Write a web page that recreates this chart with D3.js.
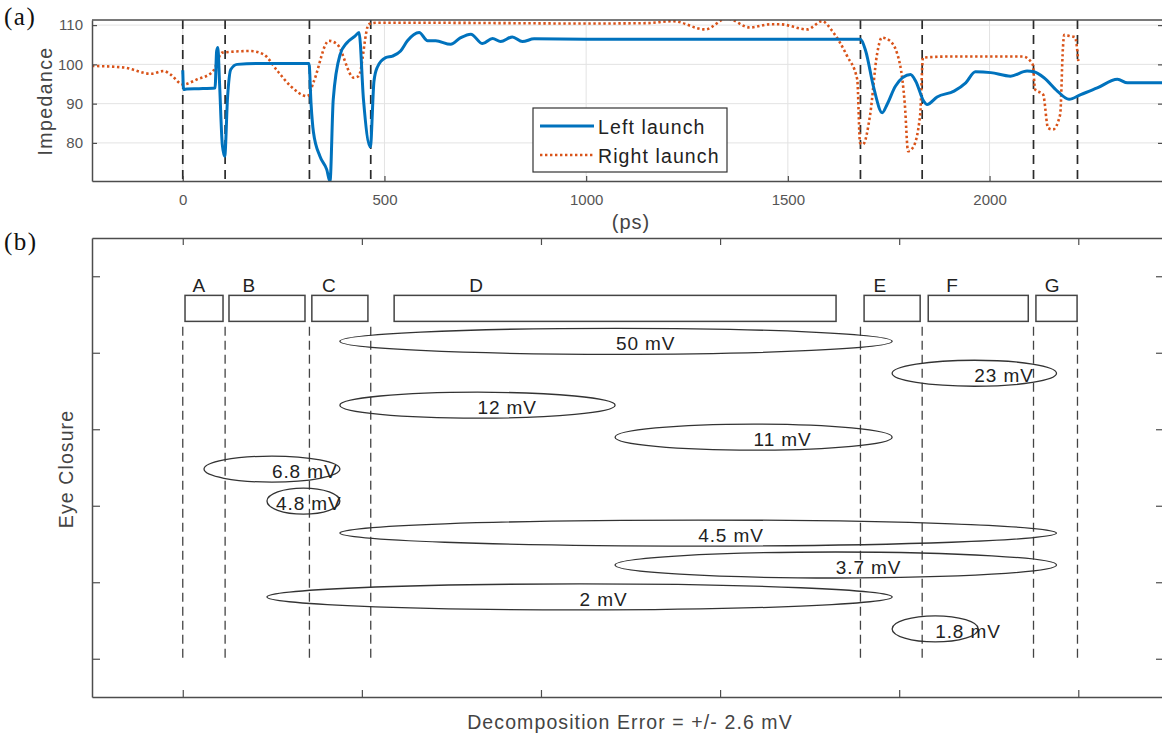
<!DOCTYPE html>
<html>
<head>
<meta charset="utf-8">
<script src="https://cdn.jsdelivr.net/npm/d3@7"></script>
<style>
  html, body { margin: 0; padding: 0; background: #fff; }
  svg { display: block; }
  text { font-family: "Liberation Sans", Arial, sans-serif; }
</style>
</head>
<body>
<svg id="fig" width="1162" height="738"></svg>
<script>
// ---------- panel (a): impedance profile ----------
const leftTime = [0, 2, 10, 40, 80, 84, 87, 91, 98, 104, 111, 119, 135, 185, 313, 318, 324, 340, 357, 365, 373, 390, 407, 427, 437, 448, 465, 474, 482, 503, 520, 540, 557, 586, 607, 627, 664, 689, 714, 743, 768, 788, 817, 842, 871, 1000, 1400, 1680, 1693, 1713, 1734, 1746, 1767, 1804, 1817, 1837, 1845, 1870, 1912, 1941, 1965, 2003, 2052, 2093, 2110, 2135, 2168, 2197, 2226, 2267, 2317, 2342, 2430];
const leftImp  = [98.5, 93.6, 93.7, 93.8, 94, 103.4, 104.3, 95.7, 79.6, 76.6, 91.5, 98.7, 100, 100.2, 100.2, 90, 82.7, 76.6, 73.2, 70.2, 91, 102.5, 105.5, 107.2, 108.1, 91, 79, 95.7, 99.2, 101.7, 102.1, 103.4, 106, 108.1, 106, 106, 105.1, 106.8, 107.7, 105.3, 106.6, 105.8, 107, 105.8, 106.5, 106.4, 106.4, 106.4, 103.4, 94, 87.7, 89.8, 94.5, 97.4, 95.7, 90.6, 89.8, 91.7, 93.2, 95.3, 98.1, 97.9, 97, 98.3, 98.1, 96.6, 93.2, 91.1, 92.3, 94, 96.2, 95.3, 95.3];

const rightTime = [-225, -146, -79, -47, -30, 0, 36, 74, 98, 168, 201, 235, 267, 309, 325, 362, 383, 424, 436, 461, 480, 600, 800, 1000, 1150, 1215, 1295, 1349, 1406, 1456, 1481, 1548, 1585, 1610, 1647, 1672, 1679, 1686, 1704, 1721, 1733, 1753, 1778, 1790, 1798, 1810, 1828, 1835, 1900, 2083, 2107, 2113, 2133, 2145, 2157, 2175, 2182, 2185, 2200, 2212, 2220];
const rightImp  = [99.6, 99.2, 97.6, 98.3, 97.4, 94.9, 96.2, 98.1, 103, 103.4, 102.5, 98.3, 94.5, 91.9, 95.7, 106, 105.1, 96.6, 97, 110.2, 110.6, 110.6, 110.5, 110.4, 110.5, 111, 108.9, 111.7, 109.4, 110.2, 110.2, 108.9, 111, 108.5, 102.1, 96.2, 80, 79.6, 87.2, 102.5, 106.8, 106, 100, 89.8, 77.9, 78.8, 87.2, 101.7, 102, 102, 100, 93.6, 92.3, 83.8, 83.4, 87.2, 104.3, 107.5, 107.2, 106.9, 100.8];

const timeTicks = [0, 500, 1000, 1500, 2000];
const impTicks = [80, 90, 100, 110];
// segment boundaries (ps) marked by dashed lines in both panels
const boundaries = [0, 105, 314, 466, 1680, 1833, 2109, 2218];
const seriesNames = ["Left launch", "Right launch"];

// ---------- panel (b): eye-closure decomposition ----------
const segNames = ["A", "B", "C", "D", "E", "F", "G"];
const segStart = [5.6, 114.6, 320, 524, 1689, 1848, 2115];
const segEnd   = [99.8, 303, 459, 1619.5, 1828, 2096, 2217];
const segLabelAt = [40, 164, 362, 727, 1728, 1907, 2155];

const pairFrom = ["C", "E", "C", "D", "A", "B", "C", "D", "B", "E"];
const pairTo   = ["E", "G", "D", "E", "C", "C", "G", "G", "E", "F"];
const closureMv = [50, 23, 12, 11, 6.8, 4.8, 4.5, 3.7, 2, 1.8];
const bottomTicks = [0, 444, 888, 1332, 1776, 2220];
const closureTicks = [0.5, 1.5, 2.5, 3.5, 4.5, 5.5];

const svg = d3.select("#fig");
const axisCol = "#4d4d4d";
const blue = "#0072BD", orange = "#D95319";

// ===== panel (a) =====
const A = { l: 92, r: 1163, t: 20, b: 181 };
const x = d3.scaleLinear().domain([-225, 2430]).range([A.l, A.r]);
const y = d3.scaleLinear().domain([70.3, 111.3]).range([A.b, A.t]);

svg.append("clipPath").attr("id", "clipA")
  .append("rect").attr("x", A.l).attr("y", A.t).attr("width", A.r - A.l).attr("height", A.b - A.t);

const gA = svg.append("g");
// grid
gA.append("g").selectAll("line").data(timeTicks).join("line")
  .attr("x1", d => x(d)).attr("x2", d => x(d)).attr("y1", A.t).attr("y2", A.b)
  .attr("stroke", "#e3e3e3").attr("stroke-width", 1);
gA.append("g").selectAll("line").data(impTicks).join("line")
  .attr("x1", A.l).attr("x2", A.r).attr("y1", d => y(d)).attr("y2", d => y(d))
  .attr("stroke", "#e3e3e3").attr("stroke-width", 1);

// boundary markers
gA.append("g").selectAll("line").data(boundaries).join("line")
  .attr("x1", d => x(d)).attr("x2", d => x(d)).attr("y1", A.t).attr("y2", A.b)
  .attr("stroke", "#2a2a2a").attr("stroke-width", 1.7).attr("stroke-dasharray", "9,6");

const line = d3.line().x(d => x(d[0])).y(d => y(d[1])).curve(d3.curveMonotoneX);
const plot = gA.append("g").attr("clip-path", "url(#clipA)");
plot.append("path").datum(d3.zip(rightTime, rightImp)).attr("d", line)
  .attr("fill", "none").attr("stroke", orange).attr("stroke-width", 2.6)
  .attr("stroke-dasharray", "2.4,2.6");
plot.append("path").datum(d3.zip(leftTime, leftImp)).attr("d", line)
  .attr("fill", "none").attr("stroke", blue).attr("stroke-width", 3)
  .attr("stroke-linejoin", "round");

// axes (ticks inside)
const axB = gA.append("g").attr("transform", `translate(0,${A.b})`)
  .call(d3.axisBottom(x).tickValues(timeTicks).tickFormat(d3.format("d"))
    .tickSizeInner(-5).tickSizeOuter(0).tickPadding(13));
const axL = gA.append("g").attr("transform", `translate(${A.l},0)`)
  .call(d3.axisLeft(y).tickValues(impTicks).tickFormat(d3.format("d"))
    .tickSizeInner(-5).tickSizeOuter(0).tickPadding(9));
const axR = gA.append("g").attr("transform", `translate(${A.r},0)`)
  .call(d3.axisRight(y).tickValues(impTicks).tickSizeInner(-5).tickSizeOuter(0).tickFormat(""));
[axB, axL, axR].forEach(g => {
  g.select(".domain").attr("stroke", axisCol).attr("stroke-width", 1.5);
  g.selectAll(".tick line").attr("stroke", axisCol).attr("stroke-width", 1.2);
  g.selectAll(".tick text").attr("fill", "#555").style("font-size", "15px")
    .style("font-family", "'Liberation Sans', Arial, sans-serif");
});
gA.append("line").attr("x1", A.l).attr("x2", A.r).attr("y1", A.t).attr("y2", A.t)
  .attr("stroke", axisCol).attr("stroke-width", 1.5);

// legend
const lg = gA.append("g");
lg.append("rect").attr("x", 533).attr("y", 108).attr("width", 194).attr("height", 64)
  .attr("fill", "#fff").attr("stroke", "#333").attr("stroke-width", 1.2);
const legStyles = [
  { stroke: blue, width: 3, dash: null },
  { stroke: orange, width: 2.6, dash: "2.4,2.6" }
];
seriesNames.forEach((name, i) => {
  const cy = 126 + i * 29;
  lg.append("line").attr("x1", 540).attr("x2", 594).attr("y1", cy).attr("y2", cy)
    .attr("stroke", legStyles[i].stroke).attr("stroke-width", legStyles[i].width)
    .attr("stroke-dasharray", legStyles[i].dash);
  lg.append("text").attr("x", 598).attr("y", cy + 8).text(name)
    .style("font-size", "19.5px").style("letter-spacing", "1.1px").attr("fill", "#222");
});

// titles
svg.append("text").attr("transform", `translate(52,101) rotate(-90)`).attr("text-anchor", "middle")
  .text("Impedance").style("font-size", "19.5px").style("letter-spacing", "1.4px").attr("fill", "#444");
svg.append("text").attr("x", 631).attr("y", 229).attr("text-anchor", "middle")
  .text("(ps)").style("font-size", "20px").style("letter-spacing", "1px").attr("fill", "#444");
svg.append("text").attr("x", 4).attr("y", 25).text("(a)")
  .style("font-family", "'Liberation Serif', 'Times New Roman', serif").style("font-size", "25px").style("letter-spacing", "1.5px").attr("fill", "#111");
svg.append("text").attr("x", 4).attr("y", 250).text("(b)")
  .style("font-family", "'Liberation Serif', 'Times New Roman', serif").style("font-size", "25px").style("letter-spacing", "1.5px").attr("fill", "#111");

// ===== panel (b) =====
const B = { l: 92, r: 1163, t: 238, b: 697 };
const xb = d3.scaleLinear().domain(x.domain()).range([B.l, B.r]);
const yb = d3.scaleLinear().domain([0, 6]).range([B.b, B.t]);
const rowY = d3.scaleLinear().domain([0, closureMv.length - 1]).range([yb(4.65), yb(0.89)]);

const gB = svg.append("g");
const axBB = gB.append("g").attr("transform", `translate(0,${B.b})`)
  .call(d3.axisBottom(xb).tickValues(bottomTicks).tickSizeInner(-7).tickSizeOuter(0).tickFormat(""));
const axBT = gB.append("g").attr("transform", `translate(0,${B.t})`)
  .call(d3.axisTop(xb).tickValues(bottomTicks).tickSizeInner(-7).tickSizeOuter(0).tickFormat(""));
const axBL = gB.append("g").attr("transform", `translate(${B.l},0)`)
  .call(d3.axisLeft(yb).tickValues(closureTicks).tickSizeInner(-8).tickSizeOuter(0).tickFormat(""));
const axBR = gB.append("g").attr("transform", `translate(${B.r},0)`)
  .call(d3.axisRight(yb).tickValues(closureTicks).tickSizeInner(-7).tickSizeOuter(0).tickFormat(""));
[axBB, axBT, axBL, axBR].forEach(g => {
  g.select(".domain").attr("stroke", axisCol).attr("stroke-width", 1.5);
  g.selectAll(".tick line").attr("stroke", axisCol).attr("stroke-width", 1.2);
});

// boundary markers
gB.append("g").selectAll("line").data(boundaries).join("line")
  .attr("x1", d => xb(d)).attr("x2", d => xb(d)).attr("y1", yb(4.84)).attr("y2", yb(0.5))
  .attr("stroke", "#444").attr("stroke-width", 1.3).attr("stroke-dasharray", "9,5");

// segment boxes
const segs = segNames.map((n, i) => ({ name: n, s: segStart[i], e: segEnd[i], lab: segLabelAt[i] }));
const segMid = {};
segs.forEach(s => { segMid[s.name] = (s.s + s.e) / 2; });
gB.append("g").selectAll("rect").data(segs).join("rect")
  .attr("x", d => xb(d.s)).attr("width", d => xb(d.e) - xb(d.s))
  .attr("y", yb(5.25)).attr("height", yb(4.91) - yb(5.25))
  .attr("fill", "none").attr("stroke", "#444").attr("stroke-width", 1.5);
gB.append("g").selectAll("text").data(segs).join("text")
  .attr("x", d => xb(d.lab)).attr("y", yb(5.25) - 3).attr("text-anchor", "middle")
  .text(d => d.name).style("font-size", "19px").attr("fill", "#222");

// closure ellipses between segment centres
const pairs = closureMv.map((v, i) => ({ v, a: segMid[pairFrom[i]], b: segMid[pairTo[i]], row: i }));
const eg = gB.append("g").selectAll("g").data(pairs).join("g");
eg.append("ellipse")
  .attr("cx", d => (xb(d.a) + xb(d.b)) / 2).attr("cy", d => rowY(d.row))
  .attr("rx", d => (xb(d.b) - xb(d.a)) / 2).attr("ry", 13)
  .attr("fill", "none").attr("stroke", "#333").attr("stroke-width", 1.3);
eg.append("text")
  .attr("x", d => {
    const w = xb(d.b) - xb(d.a);
    return w < 80 ? xb(d.a) + 9 : (xb(d.a) + xb(d.b)) / 2;
  })
  .attr("y", d => rowY(d.row) + 9)
  .text(d => `${d.v} mV`).style("font-size", "19px").style("letter-spacing", "0.9px").attr("fill", "#222");

// titles
svg.append("text").attr("x", 630).attr("y", 729).attr("text-anchor", "middle")
  .text("Decomposition Error = +/- 2.6 mV").style("font-size", "19.5px").style("letter-spacing", "1.1px").attr("fill", "#444");
svg.append("text").attr("transform", `translate(73,469) rotate(-90)`).attr("text-anchor", "middle")
  .text("Eye Closure").style("font-size", "19.5px").style("letter-spacing", "1.1px").attr("fill", "#444");
</script>
</body>
</html>
